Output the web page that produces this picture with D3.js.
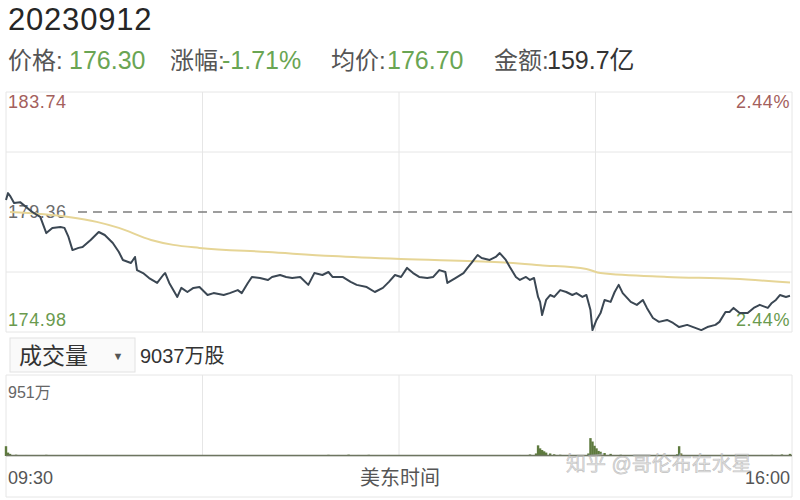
<!DOCTYPE html>
<html><head><meta charset="utf-8">
<script src="https://cdn.jsdelivr.net/npm/d3@7"></script>
<style>
body{margin:0;background:#fff;}
svg{display:block;font-family:"Liberation Sans","Noto Sans CJK SC",sans-serif;}
</style></head>
<body><svg id="c" width="800" height="500"></svg>
<script>
// ---- data ----
const dateLabel = "20230912";
const infoLabels = ["价格:", "涨幅:", "均价:", "金额:"];
const infoValues = ["176.30", "-1.71%", "176.70", "159.7亿"];
const priceTicks = [183.74, 179.36, 174.98];
const pctTicks = ["2.44%", "2.44%"];
const timeTicks = ["09:30", "16:00"];
const axisTitle = "美东时间";
const volTitle = "成交量";
const volTotal = "9037万股";
const volMaxLabel = "951万";
const prevClose = 179.36;
const watermark = "知乎 @哥伦布在水星";

// minutes since 09:30 and prices
const priceMin = [0,1,2,4,7,13,17,20,23,27,29,31,33,36,38,42,46,49,53,56,58,62,64,65,68,71,75,78,79,81,85,87,90,93,96,100,103,108,111,115,117,120,122,126,130,132,136,139,142,146,150,153,157,160,162,167,171,174,179,183,187,190,193,196,199,202,205,209,212,215,218,219,223,227,229,231,234,236,240,243,245,248,250,253,255,258,260,262,264,265,266,268,270,272,275,278,281,283,286,288,290,291,293,295,297,300,302,304,306,310,313,316,318,321,324,328,331,334,338,341,345,348,352,354,357,359,361,364,368,371,374,378,380,382,384,387,389];
const priceVal = [179.80,180.05,179.95,179.69,179.72,179.36,179.18,178.59,178.78,178.81,178.78,178.45,177.97,178.05,178.08,178.34,178.63,178.52,178.23,177.90,177.61,177.50,177.72,177.24,177.13,176.95,176.77,177.06,177.13,176.77,176.26,176.59,176.44,176.59,176.62,176.33,176.40,176.33,176.40,176.51,176.40,176.77,176.99,176.95,176.88,176.99,177.06,176.99,176.95,176.99,176.70,177.13,177.06,177.17,176.99,176.99,176.81,176.70,176.62,176.44,176.59,176.81,177.06,176.99,177.32,177.13,176.99,176.95,176.99,177.24,177.17,176.77,176.95,177.13,177.32,177.50,177.79,177.68,177.61,177.72,177.86,177.61,177.35,176.99,176.88,176.99,176.88,176.95,176.26,176.08,175.60,176.15,176.33,176.26,176.51,176.44,176.33,176.40,176.26,176.33,175.78,175.05,175.42,175.67,176.15,176.08,176.44,176.70,176.40,176.08,175.97,176.15,175.86,175.49,175.35,175.42,175.31,175.16,175.24,175.16,175.05,175.16,175.24,175.35,175.71,175.71,175.86,175.67,175.67,175.86,175.97,175.86,176.04,176.15,176.33,176.26,176.30];

const avgMin = [2,31,45,56,72,83,96,130,162,196,245,265,288,295,328,361,389];
const avgVal = [179.36,179.18,179.00,178.78,178.34,178.16,178.05,177.90,177.75,177.64,177.53,177.42,177.28,177.13,176.99,176.92,176.79];

// volume (万股) at minutes
const volMin = [0,1,2,5,10,15,20,25,30,35,40,45,50,55,60,65,70,75,80,85,90,95,100,105,110,115,120,125,130,135,140,145,150,155,160,165,170,175,180,185,190,195,200,205,210,215,220,225,230,235,240,245,250,255,260,263,264,265,266,267,268,270,272,275,280,285,289,290,291,292,293,294,295,297,300,305,310,315,320,325,330,333,334,335,340,345,350,355,360,365,370,375,380,385,389];
const volVal = [115,40,25,15,12,10,14,10,12,8,12,10,8,12,10,8,10,12,8,10,8,6,10,8,8,10,6,8,6,8,6,6,8,10,14,12,16,12,14,10,12,8,6,8,6,5,6,5,6,8,10,8,10,12,18,30,125,90,70,55,40,30,20,15,8,10,30,210,170,120,90,60,50,35,25,15,10,8,6,6,8,20,115,30,8,6,8,6,8,8,10,12,14,18,25];

// ---- layout ----
const svg = d3.select("#c");
const L = 6, R = 792;
const pTop = 92, pBot = 332;
const vTop = 375, vBot = 456, bBot = 497;

const x = d3.scaleLinear().domain([0, 390]).range([L, R]);
const y = d3.scaleLinear().domain([priceTicks[2], priceTicks[0]]).range([pBot, pTop]);
const yv = d3.scaleLinear().domain([0, 951]).range([vBot, vTop]);

const grid = "#e6e6e6";

// header
svg.append("text").attr("x", 8).attr("y", 19).attr("dominant-baseline", "central")
  .attr("font-size", 31).attr("letter-spacing", 0.8).attr("fill", "#262626").text(dateLabel);

const infoX = [8, 69, 170, 222, 331, 387, 494, 547];
const valColors = ["#6aa553", "#6aa553", "#6aa553", "#333"];
infoLabels.forEach((lab, i) => {
  svg.append("text").attr("x", infoX[2*i]).attr("y", 60).attr("dominant-baseline", "central")
    .attr("font-size", 24).attr("fill", "#555").text(lab);
  svg.append("text").attr("x", infoX[2*i+1]).attr("y", 60).attr("dominant-baseline", "central")
    .attr("font-size", 25).attr("fill", valColors[i]).text(infoValues[i]);
});

// price panel grid
const pg = svg.append("g");
[pTop, pBot].forEach(v => pg.append("line").attr("x1", L).attr("x2", R).attr("y1", v).attr("y2", v).attr("stroke", grid));
[y(181.55), y(177.17)].forEach(v => pg.append("line").attr("x1", L).attr("x2", R).attr("y1", v).attr("y2", v).attr("stroke", grid));
[0, 97.5, 195, 292.5, 390].forEach(t => pg.append("line").attr("x1", x(t)).attr("x2", x(t)).attr("y1", pTop).attr("y2", pBot).attr("stroke", grid));
pg.append("line").attr("x1", L + 72).attr("x2", R).attr("y1", y(prevClose)).attr("y2", y(prevClose))
  .attr("stroke", "#7d7d7d").attr("stroke-width", 1.6).attr("stroke-dasharray", "9,6");

// price labels
const lab = svg.append("g").attr("font-size", 18);
lab.append("text").attr("x", 8).attr("y", y(priceTicks[0]) + 10).attr("dominant-baseline", "central").attr("fill", "#a4605c").attr("letter-spacing", 0.6).text(priceTicks[0].toFixed(2));
lab.append("text").attr("x", 8).attr("y", y(priceTicks[1])).attr("dominant-baseline", "central").attr("fill", "#6b6b6b").attr("letter-spacing", 0.6).text(priceTicks[1].toFixed(2));
lab.append("text").attr("x", 8).attr("y", y(priceTicks[2]) - 12).attr("dominant-baseline", "central").attr("fill", "#6a9a4e").attr("letter-spacing", 0.6).text(priceTicks[2].toFixed(2));
lab.append("text").attr("x", 790).attr("y", y(priceTicks[0]) + 10).attr("text-anchor", "end").attr("dominant-baseline", "central").attr("fill", "#a4605c").attr("letter-spacing", 0.6).text(pctTicks[0]);
lab.append("text").attr("x", 790).attr("y", y(priceTicks[2]) - 12).attr("text-anchor", "end").attr("dominant-baseline", "central").attr("fill", "#6a9a4e").attr("letter-spacing", 0.6).text(pctTicks[1]);

// avg line
const avgData = avgMin.map((m, i) => [m, avgVal[i]]);
svg.append("path").datum(avgData)
  .attr("d", d3.line().x(d => x(d[0])).y(d => y(d[1])).curve(d3.curveMonotoneX))
  .attr("fill", "none").attr("stroke", "#e6d596").attr("stroke-width", 2);

// price line
const pData = priceMin.map((m, i) => [m, priceVal[i]]);
svg.append("path").datum(pData)
  .attr("d", d3.line().x(d => x(d[0])).y(d => y(d[1])))
  .attr("fill", "none").attr("stroke", "#3b4753").attr("stroke-width", 2).attr("stroke-linejoin", "round");

// volume header box
svg.append("rect").attr("x", 10).attr("y", 338).attr("width", 125).attr("height", 34)
  .attr("fill", "#fafafa").attr("stroke", "#e2e2e2");
svg.append("text").attr("x", 19).attr("y", 356).attr("dominant-baseline", "central")
  .attr("font-size", 23).attr("fill", "#333").text(volTitle);
svg.append("text").attr("x", 118).attr("y", 356).attr("dominant-baseline", "central").attr("text-anchor", "middle")
  .attr("font-size", 11).attr("fill", "#555").text("▼");
svg.append("text").attr("x", 140).attr("y", 356).attr("dominant-baseline", "central")
  .attr("font-size", 20).attr("fill", "#333").text(volTotal);

// volume panel
const vg = svg.append("g");
[vTop, vBot, bBot].forEach(v => vg.append("line").attr("x1", L).attr("x2", R).attr("y1", v).attr("y2", v).attr("stroke", grid));
[L, R].forEach(v => vg.append("line").attr("x1", v).attr("x2", v).attr("y1", vTop).attr("y2", bBot).attr("stroke", grid));
[97.5, 195, 292.5].forEach(t => vg.append("line").attr("x1", x(t)).attr("x2", x(t)).attr("y1", vTop).attr("y2", vBot).attr("stroke", grid));

vg.selectAll("rect.v").data(volMin.map((m, i) => [m, volVal[i]])).join("rect")
  .attr("x", d => x(d[0]) - 1.2).attr("width", 2.4)
  .attr("y", d => yv(d[1])).attr("height", d => vBot - yv(d[1]))
  .attr("fill", "#5e7a3e");
vg.append("line").attr("x1", x(0)).attr("x2", x(390)).attr("y1", vBot - 0.5).attr("y2", vBot - 0.5)
  .attr("stroke", "#6d7560").attr("stroke-width", 1.5);

svg.append("text").attr("x", 8).attr("y", 392).attr("dominant-baseline", "central")
  .attr("font-size", 16).attr("fill", "#666").text(volMaxLabel);

// time axis labels
const tl = svg.append("g").attr("font-size", 18).attr("fill", "#555");
tl.append("text").attr("x", 8).attr("y", 478).attr("dominant-baseline", "central").text(timeTicks[0]);
tl.append("text").attr("x", 400).attr("y", 478).attr("dominant-baseline", "central").attr("text-anchor", "middle").attr("font-size", 20).text(axisTitle);
tl.append("text").attr("x", 790).attr("y", 478).attr("dominant-baseline", "central").attr("text-anchor", "end").text(timeTicks[1]);

// watermark
svg.append("text").attr("x", 566).attr("y", 464).attr("dominant-baseline", "central")
  .attr("font-size", 20).attr("fill", "rgba(200,200,200,0.55)").attr("stroke", "rgba(150,150,150,0.5)").attr("stroke-width", 0.6)
  .text(watermark);
</script></body></html>
